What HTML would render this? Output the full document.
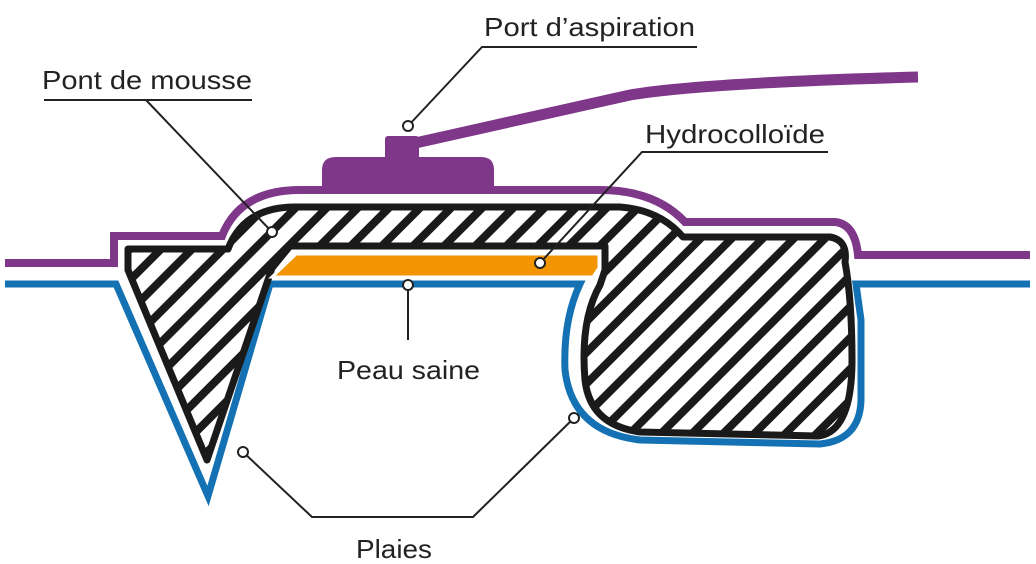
<!DOCTYPE html>
<html><head><meta charset="utf-8"><style>
html,body{margin:0;padding:0;background:#fff;width:1036px;height:564px;overflow:hidden}
svg{display:block}
text{font-family:"Liberation Sans",sans-serif;font-size:26px;fill:#222}
</style></head><body>
<svg width="1036" height="564" viewBox="0 0 1036 564" xmlns="http://www.w3.org/2000/svg">
<defs>
<pattern id="h" patternUnits="userSpaceOnUse" width="22" height="22" patternTransform="rotate(45)">
<rect width="22" height="22" fill="#fff"/><rect width="8" height="22" fill="#1a1a1a"/>
</pattern>
</defs>
<path d="M5,263 L114,263 L114,236 L222,236 Q240,190 300,190 L600,190 Q655,190 685,222 L835,222 Q855,224 858,255 L1030,255" fill="none" stroke="#7f3789" stroke-width="8"/>
<path d="M322,188 L322,170 Q322,157 336,157 L481,157 Q494,157 494,170 L494,188 Z" fill="#7f3789"/>
<rect x="385" y="136" width="34" height="26" rx="3" fill="#7f3789"/>
<path d="M402,146 L630,95 Q700,83 918,77" fill="none" stroke="#7f3789" stroke-width="11"/>
<path d="M5,284 L116,284 L208,496 L270,284 L580,284 Q563,320 565,370 Q572,432 640,440 L820,444 Q860,440 861,400 L861,320 L856,284 L1030,284" fill="none" stroke="#1472b4" stroke-width="7"/>
<path d="M128,249 L228,249 Q244,207 295,207 L620,207 Q660,210 683,237 L830,237 Q848,240 845,262 Q852,300 852,360 Q852,432 818,436 L640,432 Q590,425 585,380 Q580,320 600,285 L605,270 L605,246 L290,246 L272,268 L207,460 L128,270 Z" fill="url(#h)" stroke="#1a1a1a" stroke-width="7" stroke-linejoin="round"/>
<path d="M272,277 L296,254 L599,254 L599,268 L593,277 Z" fill="#f29500" stroke="#fff" stroke-width="3"/>
<g fill="none" stroke="#222" stroke-width="2">
<path d="M697,47 L482,47 L408,126"/>
<path d="M44,100 L252,100 M146,100 L272,232"/>
<path d="M828,152 L642,152 L540,263"/>
<path d="M408,285 L408,340"/>
<path d="M243,452 L312,517 L473,517 L574,418"/>
</g>
<g fill="#fff" stroke="#222" stroke-width="2">
<circle cx="408" cy="126" r="5"/><circle cx="272" cy="232" r="5"/><circle cx="540" cy="263" r="5"/>
<circle cx="408" cy="285" r="5"/><circle cx="243" cy="452" r="5"/><circle cx="574" cy="418" r="5"/>
</g>
<text x="484" y="36" textLength="211" lengthAdjust="spacingAndGlyphs">Port d’aspiration</text>
<text x="42" y="89" textLength="210" lengthAdjust="spacingAndGlyphs">Pont de mousse</text>
<text x="645" y="143" textLength="180" lengthAdjust="spacingAndGlyphs">Hydrocolloïde</text>
<text x="337" y="379" textLength="143" lengthAdjust="spacingAndGlyphs">Peau saine</text>
<text x="356" y="558" textLength="76" lengthAdjust="spacingAndGlyphs">Plaies</text>
</svg>
</body></html>
